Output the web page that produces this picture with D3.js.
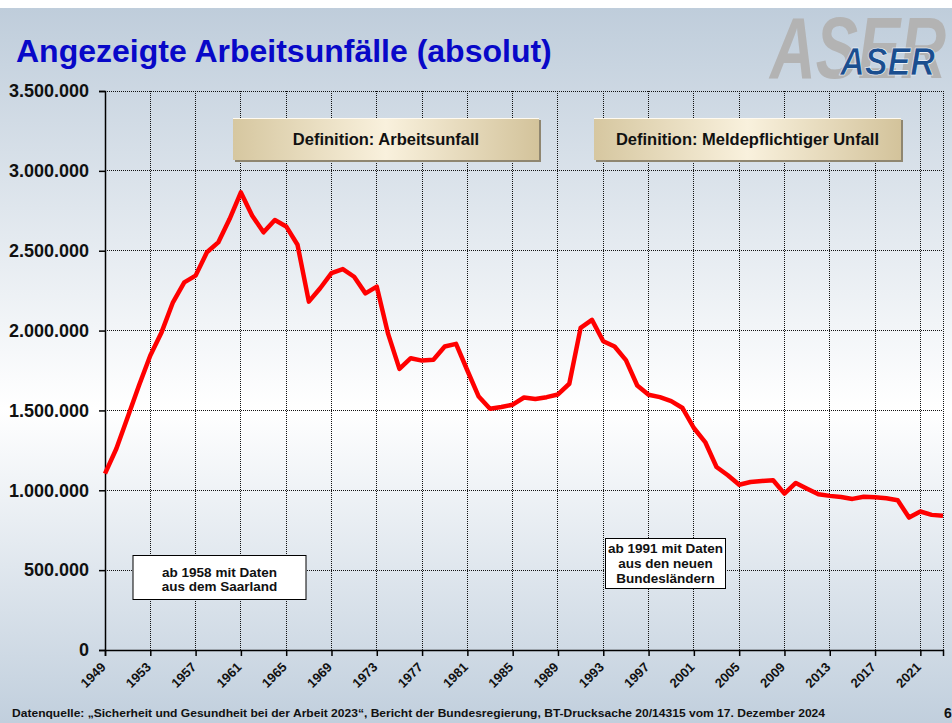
<!DOCTYPE html>
<html>
<head>
<meta charset="utf-8">
<title>Angezeigte Arbeitsunfälle (absolut)</title>
<style>
	body { margin: 0; background: #fff; }
	svg text { font-family: "Liberation Sans", Arial, sans-serif; font-weight: bold; }
</style>
</head>
<body>
<script src="https://cdn.jsdelivr.net/npm/d3@7"></script>
<script>
	// Jahre und angezeigte Arbeitsunfaelle
	var jahre = [1949, 1950, 1951, 1952, 1953, 1954, 1955, 1956, 1957, 1958,
		1959, 1960, 1961, 1962, 1963, 1964, 1965, 1966, 1967, 1968,
		1969, 1970, 1971, 1972, 1973, 1974, 1975, 1976, 1977, 1978,
		1979, 1980, 1981, 1982, 1983, 1984, 1985, 1986, 1987, 1988,
		1989, 1990, 1991, 1992, 1993, 1994, 1995, 1996, 1997, 1998,
		1999, 2000, 2001, 2002, 2003, 2004, 2005, 2006, 2007, 2008,
		2009, 2010, 2011, 2012, 2013, 2014, 2015, 2016, 2017, 2018,
		2019, 2020, 2021, 2022, 2023];
	var unfaelle = [1104000, 1260000, 1458000, 1656000, 1844000, 1990000, 2177000, 2302000, 2344000, 2490000,
		2552000, 2698000, 2865000, 2719000, 2615000, 2692000, 2652000, 2537000, 2181000, 2265000,
		2360000, 2385000, 2337000, 2233000, 2275000, 1979000, 1760000, 1827000, 1812000, 1817000,
		1900000, 1917000, 1750000, 1587000, 1510000, 1521000, 1536000, 1581000, 1571000, 1583000,
		1600000, 1667000, 2017000, 2067000, 1933000, 1900000, 1815000, 1656000, 1598000, 1583000,
		1558000, 1515000, 1390000, 1302000, 1146000, 1094000, 1035000, 1052000, 1058000, 1063000,
		979000, 1046000, 1010000, 975000, 965000, 958000, 946000, 960000, 956000, 950000,
		938000, 829000, 867000, 846000, 840000];
	var xTicks = [1949, 1953, 1957, 1961, 1965, 1969, 1973, 1977, 1981, 1985,
		1989, 1993, 1997, 2001, 2005, 2009, 2013, 2017, 2021];
	var yTicks = [0, 500000, 1000000, 1500000, 2000000, 2500000, 3000000, 3500000];
	var definitionen = ["Definition: Arbeitsunfall", "Definition: Meldepflichtiger Unfall"];
	var hinweis1958 = ["ab 1958 mit Daten", "aus dem Saarland"];
	var hinweis1991 = ["ab 1991 mit Daten", "aus den neuen", "Bundesländern"];

	var w = 952,
		h = 723;

	var de = d3.formatLocale({ decimal: ",", thousands: ".", grouping: [3], currency: ["", " €"] });
	var fmt = de.format(",");

	var svg = d3.select("body").append("svg")
			.attr("width", w)
			.attr("height", h);

	var defs = svg.append("defs");
	var bg = defs.append("linearGradient")
			.attr("id", "bg")
			.attr("x1", 0).attr("y1", 0).attr("x2", 0).attr("y2", 1);
	bg.append("stop").attr("offset", "0%").attr("stop-color", "#bfcddb");
	bg.append("stop").attr("offset", "56%").attr("stop-color", "#ffffff");
	bg.append("stop").attr("offset", "100%").attr("stop-color", "#c1cfdd");

	var beige = defs.append("linearGradient")
			.attr("id", "beige")
			.attr("x1", 0).attr("y1", 0).attr("x2", 1).attr("y2", 0);
	beige.append("stop").attr("offset", "0%").attr("stop-color", "#d6c7a0");
	beige.append("stop").attr("offset", "50%").attr("stop-color", "#f9f1dd");
	beige.append("stop").attr("offset", "100%").attr("stop-color", "#d3c39b");

	svg.append("rect")
		.attr("x", 0).attr("y", 8)
		.attr("width", w).attr("height", h - 8)
		.attr("fill", "url(#bg)");

	// Titel und Logo
	svg.append("text")
		.attr("x", 16).attr("y", 62)
		.attr("font-size", "32px")
		.attr("fill", "#0808c8")
		.text("Angezeigte Arbeitsunfälle (absolut)");

	svg.append("text")
		.attr("x", 770).attr("y", 78)
		.attr("font-size", "88px")
		.attr("font-style", "italic")
		.attr("fill", "#b3b3b3")
		.attr("textLength", 176)
		.attr("lengthAdjust", "spacingAndGlyphs")
		.text("ASER");
	svg.append("text")
		.attr("x", 840).attr("y", 75)
		.attr("font-size", "39px")
		.attr("font-style", "italic")
		.attr("fill", "#1b4e8f")
		.attr("stroke", "#ffffff")
		.attr("stroke-width", 0.6)
		.attr("textLength", 95)
		.attr("lengthAdjust", "spacingAndGlyphs")
		.text("ASER");

	var x = d3.scaleLinear().domain([1949, 2023]).range([105, 943]);
	var y = d3.scaleLinear().domain([0, 3500000]).range([650, 91]);

	// Gitter
	var grid = svg.append("g")
		.attr("stroke", "#111")
		.attr("stroke-width", 1)
		.attr("stroke-dasharray", "1,1")
		.attr("shape-rendering", "crispEdges");
	grid.selectAll("line.h")
		.data(yTicks.slice(1))
		.enter()
		.append("line")
			.attr("class", "h")
			.attr("x1", x(1949)).attr("x2", x(2023))
			.attr("y1", function(d) { return y(d) })
			.attr("y2", function(d) { return y(d) });
	grid.selectAll("line.v")
		.data(xTicks.slice(1).concat([2023]))
		.enter()
		.append("line")
			.attr("class", "v")
			.attr("y1", y(0)).attr("y2", y(3500000))
			.attr("x1", function(d) { return x(d) })
			.attr("x2", function(d) { return x(d) });

	// Achsen
	var yAxis = svg.append("g")
		.attr("transform", "translate(" + x(1949) + ",0)")
		.call(d3.axisLeft(y).tickValues(yTicks).tickSize(6).tickPadding(10).tickFormat(fmt));
	yAxis.select(".domain").attr("stroke", "#000").attr("stroke-width", 1.5);
	yAxis.selectAll(".tick line").attr("stroke", "#000").attr("stroke-width", 1.5);
	yAxis.selectAll(".tick text")
		.attr("font-size", "18px")
		.attr("fill", "#111")
		.attr("font-family", "\"Liberation Sans\", Arial, sans-serif");

	var xAxis = svg.append("g")
		.attr("transform", "translate(0," + y(0) + ")")
		.call(d3.axisBottom(x).tickValues(xTicks).tickSize(6).tickFormat(d3.format("d")));
	xAxis.select(".domain").attr("stroke", "#000").attr("stroke-width", 1.5);
	xAxis.selectAll(".tick line").attr("stroke", "#000").attr("stroke-width", 1.5);
	xAxis.selectAll(".tick text")
		.attr("font-size", "13px")
		.attr("fill", "#111")
		.attr("font-family", "\"Liberation Sans\", Arial, sans-serif")
		.attr("text-anchor", "end")
		.attr("dy", null)
		.attr("y", null)
		.attr("transform", "translate(1,18) rotate(-45)");

	// Definitionskaesten
	var boxes = [{ x: 233, w: 306 }, { x: 594, w: 307 }];
	boxes.forEach(function(b, i) {
		var g = svg.append("g");
		g.append("rect")
			.attr("x", b.x + 2).attr("y", 120)
			.attr("width", b.w).attr("height", 42)
			.attr("fill", "#8f8670");
		g.append("rect")
			.attr("x", b.x).attr("y", 118)
			.attr("width", b.w).attr("height", 42)
			.attr("fill", "url(#beige)");
		g.append("line")
			.attr("x1", b.x).attr("x2", b.x + b.w)
			.attr("y1", 118.5).attr("y2", 118.5)
			.attr("stroke", "#fffaf0");
		g.append("text")
			.attr("x", b.x + b.w / 2).attr("y", 145)
			.attr("text-anchor", "middle")
			.attr("font-size", "16.5px")
			.attr("fill", "#111")
			.text(definitionen[i]);
	});

	// Linie
	var line = d3.line()
		.x(function(d, i) { return x(jahre[i]) })
		.y(function(d) { return y(d) });
	svg.append("path")
		.datum(unfaelle)
		.attr("d", line)
		.attr("fill", "none")
		.attr("stroke", "#ff0000")
		.attr("stroke-width", 4.5)
		.attr("stroke-linejoin", "round");

	// Hinweise
	function hinweis(lines, bx, by, bw, bh, y0, dy) {
		var g = svg.append("g");
		g.append("rect")
			.attr("x", bx).attr("y", by)
			.attr("width", bw).attr("height", bh)
			.attr("fill", "#fff")
			.attr("stroke", "#000")
			.attr("stroke-width", 1);
		g.selectAll("text")
			.data(lines)
			.enter()
			.append("text")
				.attr("x", bx + bw / 2)
				.attr("y", function(d, i) { return y0 + i * dy })
				.attr("text-anchor", "middle")
				.attr("font-size", "13.5px")
				.attr("fill", "#111")
				.text(function(d) { return d });
	}
	hinweis(hinweis1958, 133, 555.5, 173, 44, 577, 13.5);
	hinweis(hinweis1991, 605.5, 538.5, 120, 50, 553, 14.8);

	// Quelle
	svg.append("text")
		.attr("x", 12).attr("y", 717)
		.attr("font-size", "11px")
		.attr("fill", "#111")
		.attr("textLength", 813)
		.attr("lengthAdjust", "spacingAndGlyphs")
		.text("Datenquelle: \u201ESicherheit und Gesundheit bei der Arbeit 2023\u201C, Bericht der Bundesregierung, BT-Drucksache 20/14315 vom 17. Dezember 2024");
	svg.append("text")
		.attr("x", 944).attr("y", 718)
		.attr("font-size", "14px")
		.attr("fill", "#111")
		.text("6");
</script>
</body>
</html>
